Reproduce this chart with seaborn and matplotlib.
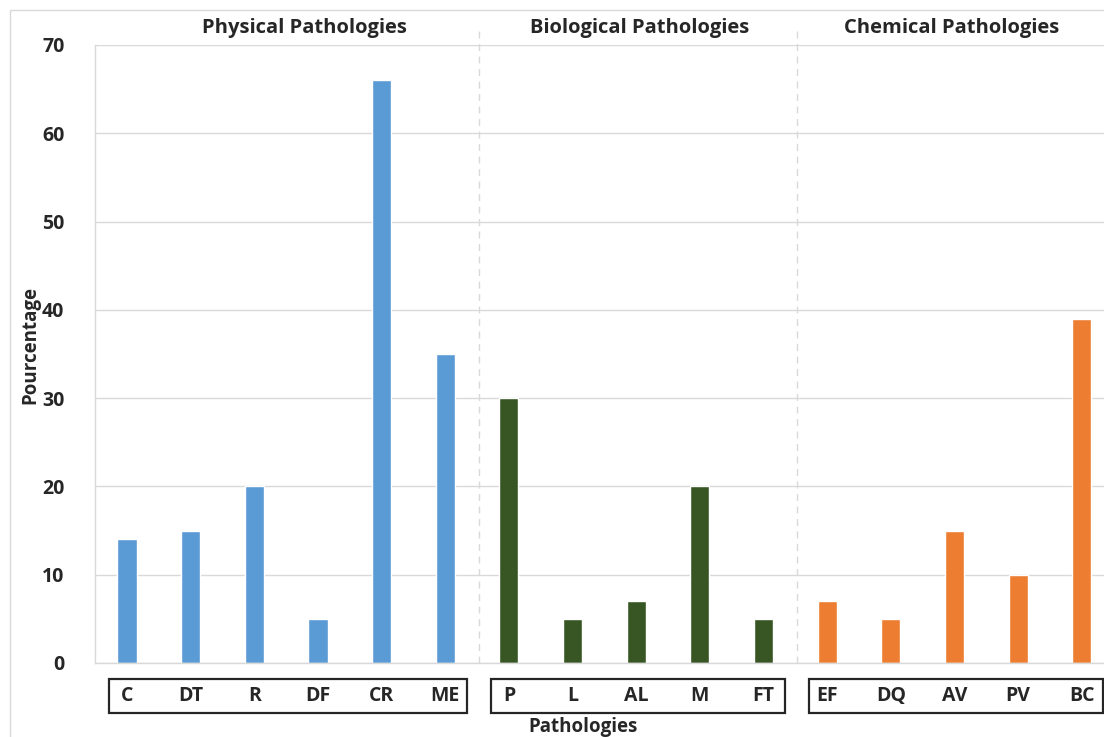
import matplotlib
matplotlib.use("Agg")
import matplotlib.pyplot as plt
import matplotlib.transforms as mtransforms
from matplotlib.patches import Rectangle
import seaborn as sns
import pandas as pd

# Pathology codes, grouped by family
physical = ["C", "DT", "R", "DF", "CR", "ME"]
biological = ["P", "L", "AL", "M", "FT"]
chemical = ["EF", "DQ", "AV", "PV", "BC"]

physical_pct = [14, 15, 20, 5, 66, 35]
biological_pct = [30, 5, 7, 20, 5]
chemical_pct = [7, 5, 15, 10, 39]

group_titles = ["Physical Pathologies", "Biological Pathologies", "Chemical Pathologies"]
group_colors = ["#5B9BD5", "#375623", "#ED7D31"]
y_ticks = [0, 10, 20, 30, 40, 50, 60, 70]

codes = physical + biological + chemical
values = physical_pct + biological_pct + chemical_pct
groups = ([group_titles[0]] * len(physical) + [group_titles[1]] * len(biological)
          + [group_titles[2]] * len(chemical))
df = pd.DataFrame({"code": codes, "pct": values, "group": groups})

sns.set_theme(style="white")
plt.rcParams["font.family"] = ["Open Sans", "DejaVu Sans"]
plt.rcParams["font.weight"] = "bold"
TXT = "#262626"

W, H = 1104, 737
fig = plt.figure(figsize=(W / 100, H / 100), dpi=100)
ax = fig.add_axes([95 / W, (H - 663) / H, (1113 - 95) / W, (663 - 45) / H])

sns.barplot(data=df, x="code", y="pct", hue="group", order=codes,
            hue_order=group_titles, palette=group_colors, dodge=False,
            width=0.3, saturation=1, legend=False, ax=ax)

ax.set_ylim(0, 70)
ax.set_xlim(-0.503, 15.49)
ax.set_yticks(y_ticks)
ax.set_yticklabels([str(t) for t in y_ticks], fontsize=14, fontweight="bold", color=TXT)
ax.tick_params(axis="y", length=7, width=1, color="#D9D9D9", pad=15)
ax.tick_params(axis="x", length=0, labelbottom=False)
ax.set_xlabel("")
ax.set_ylabel("")
ax.grid(axis="y", color="#D9D9D9", linewidth=1)
ax.set_axisbelow(True)
for side in ["top", "right"]:
    ax.spines[side].set_visible(False)
for side in ["bottom", "left"]:
    ax.spines[side].set_color("#D9D9D9")
    ax.spines[side].set_linewidth(1)

trans = mtransforms.blended_transform_factory(ax.transData, ax.transAxes)

sizes = [len(physical), len(biological), len(chemical)]
starts = [0, sizes[0], sizes[0] + sizes[1]]

# Boxed category labels under each family
box_lo, box_hi = -0.026, -0.081
pad_left, pad_right = 0.28, 0.34
box_edges = []
for s, n in zip(starts, sizes):
    x0, x1 = s - pad_left, s + n - 1 + pad_right
    box_edges.append((x0, x1))
    ax.add_patch(Rectangle((x0, box_hi), x1 - x0, box_lo - box_hi, transform=trans,
                           fill=False, edgecolor=TXT, linewidth=1.6, clip_on=False))
for i, code in enumerate(codes):
    ax.text(i, (box_lo + box_hi) / 2, code, transform=trans, ha="center", va="center",
            fontsize=14, fontweight="bold", color=TXT)

# Dashed separators between the three families
for (_, right), (left, _) in zip(box_edges[:-1], box_edges[1:]):
    xm = (right + left) / 2
    ax.plot([xm, xm], [0, 1.03], transform=trans, color="#D9D9D9",
            linewidth=1, linestyle=(0, (5, 4)), clip_on=False)

# Family titles above the plot
title_shift = [0.29, 0.05, -0.05]
for title, s, n, dx in zip(group_titles, starts, sizes, title_shift):
    ax.text(s + (n - 1) / 2 + dx, 1.028, title, transform=trans, ha="center", va="center",
            fontsize=14.5, fontweight="bold", color=TXT)

fig.text(583 / W, 1 - 727 / H, "Pathologies", ha="center", va="center",
         fontsize=13.5, fontweight="bold", color=TXT)
fig.text(30 / W, 1 - 345 / H, "Pourcentage", ha="center", va="center", rotation=90,
         fontsize=13.5, fontweight="bold", color=TXT)

# Thin chart frame
fig.add_artist(Rectangle((10 / W, -0.05), 1.1, 1 - 10 / H + 0.05, transform=fig.transFigure,
                         fill=False, edgecolor="#D9D9D9", linewidth=1))

fig.savefig("out.png", dpi=100, facecolor="white")
